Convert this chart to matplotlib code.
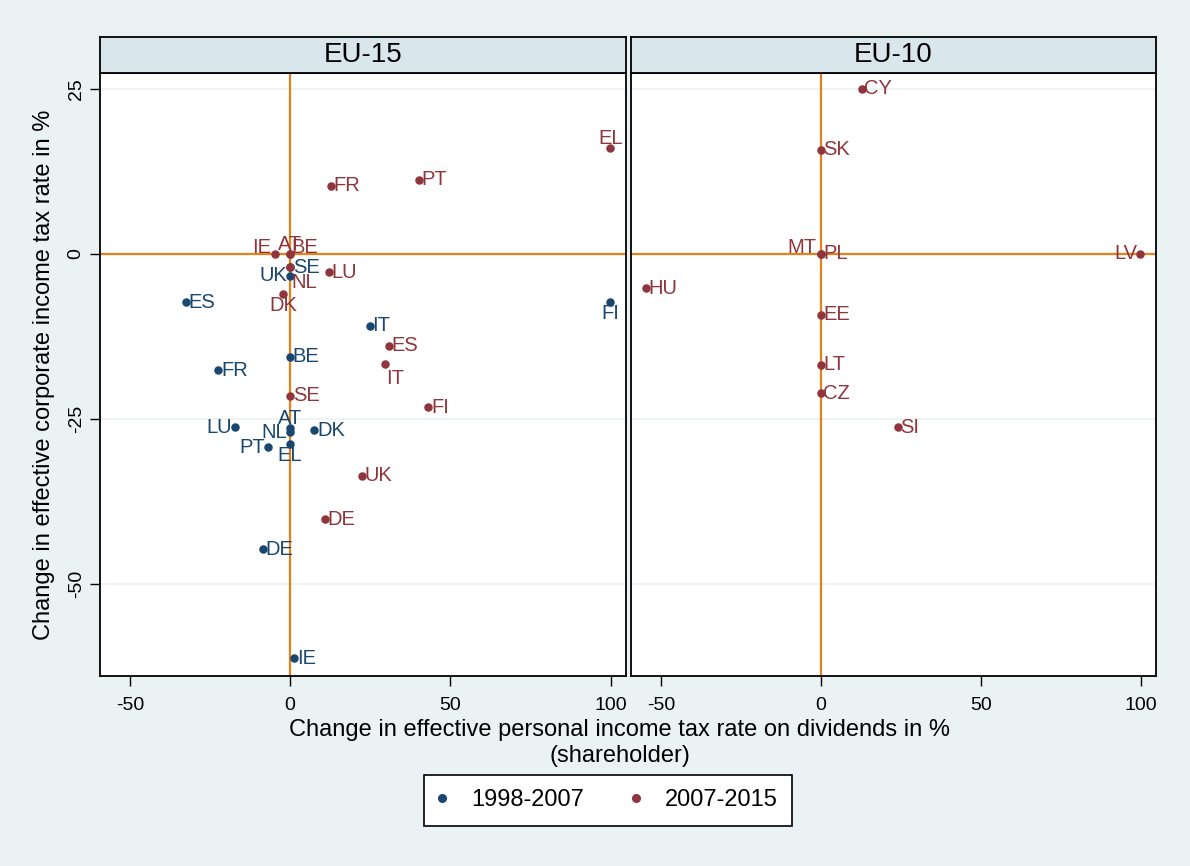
import numpy as np
import matplotlib
matplotlib.use("Agg")
import matplotlib.pyplot as plt

plt.rcParams['font.family'] = ['Liberation Sans', 'DejaVu Sans']
plt.rcParams['axes.unicode_minus'] = False

# EU-15, 1998-2007
eu15_a_names = ['ES', 'UK', 'SE', 'IT', 'BE', 'FR', 'LU', 'AT', 'NL', 'DK', 'PT', 'EL', 'DE', 'IE', 'FI']
eu15_a_x = [-32.6, 0, 0, 24.8, 0, -22.4, -17.3, 0, 0, 7.5, -6.8, 0, -8.5, 1.2, 99.9]
eu15_a_y = [-7.3, -3.3, -2.0, -10.9, -15.6, -17.6, -26.2, -26.3, -27.0, -26.7, -29.3, -28.8, -44.7, -61.2, -7.3]

# EU-15, 2007-2015
eu15_b_names = ['IE', 'AT', 'BE', 'NL', 'LU', 'DK', 'FR', 'PT', 'EL', 'ES', 'IT', 'SE', 'FI', 'UK', 'DE']
eu15_b_x = [-4.6, 0, 0, 0, 12.0, -2.2, 12.7, 40.1, 99.9, 30.8, 29.5, 0, 43.1, 22.3, 10.8]
eu15_b_y = [0, 0, 0, -2.0, -2.8, -6.1, 10.3, 11.2, 16.1, -13.9, -16.7, -21.5, -23.2, -33.6, -40.2]

# EU-10, 2007-2015
eu10_b_names = ['CY', 'SK', 'MT', 'PL', 'LV', 'HU', 'EE', 'LT', 'CZ', 'SI']
eu10_b_x = [12.8, 0, 0, 0, 99.8, -54.6, 0, 0, 0, 24.1]
eu10_b_y = [25.0, 15.8, 0, 0, 0, -5.2, -9.2, -16.8, -21.1, -26.2]

xticks = [-50, 0, 50, 100]
yticks = [25, 0, -25, -50]

# label clock positions (Stata style)
lab_a = [3, 9, 3, 3, 3, 3, 9, 12, 9, 3, 9, 6, 3, 3, 6]
lab_b = [10, 12, 2, 4, 3, 6, 3, 3, 12, 3, 5, 3, 3, 3, 3]
lab_10 = [3, 3, 10, 3, 9, 3, 3, 3, 3, 3]

clock = {
    3: (2, 0, 'left', 'center'),
    9: (-2, 0, 'right', 'center'),
    12: (0, 0, 'center', 'bottom'),
    6: (0, -1, 'center', 'top'),
    2: (1, 5, 'left', 'center'),
    4: (1, -11, 'left', 'center'),
    5: (1, -10, 'left', 'center'),
    10: (-3, 5, 'right', 'center'),
}

blue = '#1A476F'
red = '#90353B'
orange = '#E8801A'
bg = '#EAF2F3'
strip = '#D9E6EB'

fig = plt.figure(figsize=(11.9, 8.66), dpi=100, facecolor=bg)

bottom, height = 0.2194, 0.6963
ax1 = fig.add_axes([100/1190, bottom, 526/1190, height])
ax2 = fig.add_axes([631/1190, bottom, 525/1190, height])


def label_points(ax, xs, ys, names, pos, col):
    for x, y, n, p in zip(xs, ys, names, pos):
        dx, dy, ha, va = clock[p]
        ax.annotate(n, (x, y), xytext=(dx, dy), textcoords='offset points',
                    ha=ha, va=va, color=col, fontsize=14.5, zorder=5)


for ax, title in [(ax1, 'EU-15'), (ax2, 'EU-10')]:
    ax.set_xlim(-59.3, 104.8)
    ax.set_ylim(-63.9, 27.4)
    ax.set_facecolor('white')
    for y in yticks:
        ax.axhline(y, color=bg, lw=1.2, zorder=0)
    ax.axhline(0, color=orange, lw=1.6, zorder=1)
    ax.axvline(0, color=orange, lw=1.6, zorder=1)
    ax.set_xticks(xticks)
    ax.tick_params(axis='x', direction='out', length=7, width=1, labelsize=14, pad=8)
    for s in ax.spines.values():
        s.set_linewidth(1.3)
    pos = ax.get_position()
    sax = fig.add_axes([pos.x0, pos.y1, pos.width, 0.0416])
    sax.set_facecolor(strip)
    sax.set_xticks([])
    sax.set_yticks([])
    for s in sax.spines.values():
        s.set_linewidth(1.3)
    sax.text(0.5, 0.5, title, ha='center', va='center', fontsize=20, transform=sax.transAxes)

ax1.set_yticks(yticks)
ax1.set_yticklabels([str(t) for t in yticks], rotation=90, va='center')
ax1.tick_params(axis='y', direction='out', length=7, width=1, labelsize=14, pad=4)
ax2.set_yticks([])

ax1.scatter(eu15_a_x, eu15_a_y, s=26, color=blue, zorder=3)
ax1.scatter(eu15_b_x, eu15_b_y, s=26, color=red, zorder=4)
label_points(ax1, eu15_a_x, eu15_a_y, eu15_a_names, lab_a, blue)
label_points(ax1, eu15_b_x, eu15_b_y, eu15_b_names, lab_b, red)

ax2.scatter(eu10_b_x, eu10_b_y, s=26, color=red, zorder=4)
label_points(ax2, eu10_b_x, eu10_b_y, eu10_b_names, lab_10, red)

fig.text(44/1190, 1-374.5/866, 'Change in effective corporate income tax rate in %',
         rotation=90, ha='center', va='center', fontsize=17)
fig.text(0.521, 1-743/866, 'Change in effective personal income tax rate on dividends in %\n(shareholder)',
         ha='center', va='center', fontsize=17, linespacing=1.2)

h1 = plt.Line2D([], [], ls='none', marker='o', ms=5.5, color=blue)
h2 = plt.Line2D([], [], ls='none', marker='o', ms=5.5, color=red)
leg = fig.legend([h1, h2], ['1998-2007', '2007-2015'], loc='center',
                 bbox_to_anchor=(0.511, 1-800.5/866), ncol=2, fontsize=17,
                 frameon=True, fancybox=False, edgecolor='black', facecolor='white',
                 handlelength=0.3, handletextpad=1.08, columnspacing=2.05, borderpad=0.6)
leg.get_frame().set_linewidth(1.2)
leg.get_frame().set_alpha(1)

fig.savefig('out.png', dpi=100, facecolor=bg)
